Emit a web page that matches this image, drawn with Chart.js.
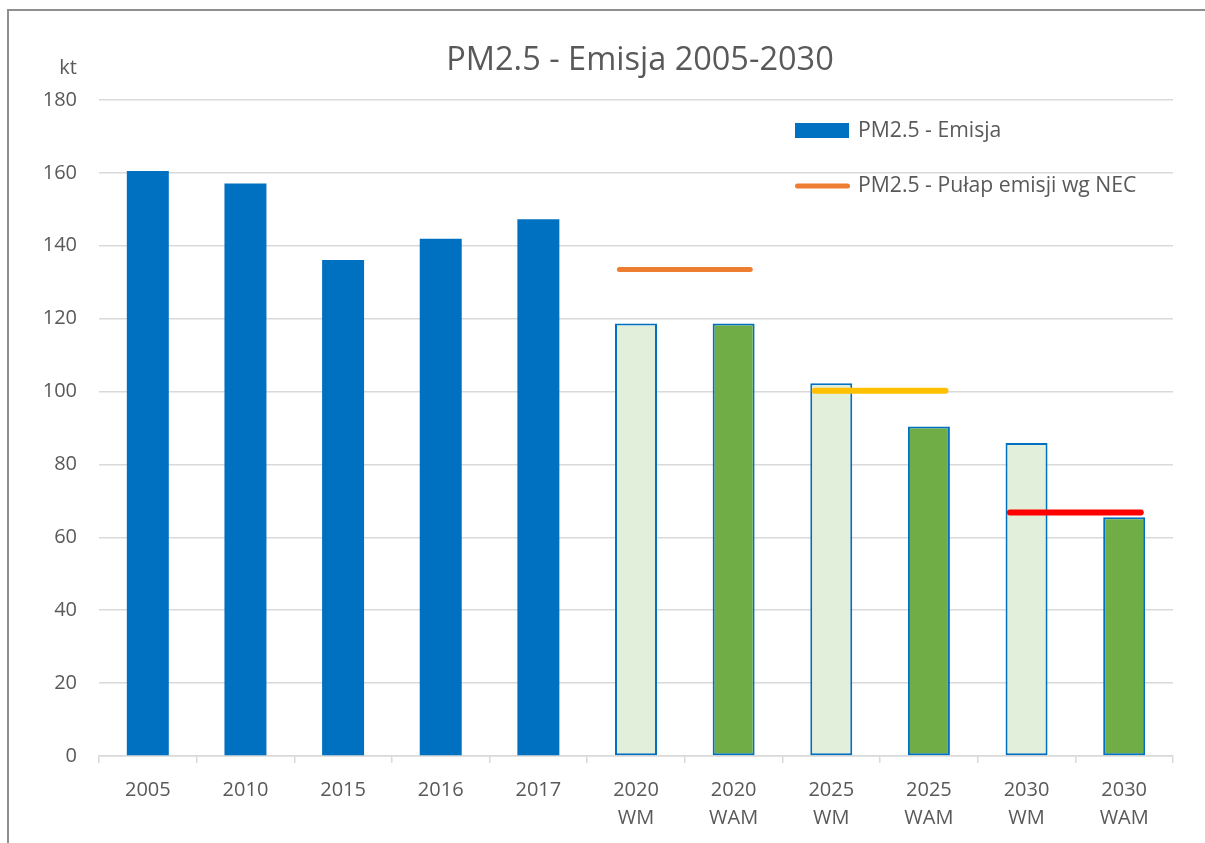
<!DOCTYPE html>
<html>
<head>
<meta charset="utf-8">
<script src="https://cdn.jsdelivr.net/npm/chart.js@4.4.1/dist/chart.umd.min.js"></script>
<style>
  html, body { margin: 0; padding: 0; background: #fff; overflow: hidden; }
  #wrap { position: relative; width: 1205px; height: 843px; overflow: hidden; }
  #frame { position: absolute; left: 7px; top: 9px; width: 3000px; height: 3000px; border: 2px solid #8e8e8e; box-sizing: border-box; }
  canvas { position: absolute; left: 0; top: 0; }
</style>
</head>
<body>
<div id="wrap">
  <div id="frame"></div>
  <canvas id="c" width="1205" height="843"></canvas>
</div>
<script>
// ---- data ----
const categories = [['2005'], ['2010'], ['2015'], ['2016'], ['2017'],
  ['2020', 'WM'], ['2020', 'WAM'], ['2025', 'WM'], ['2025', 'WAM'], ['2030', 'WM'], ['2030', 'WAM']];
const emissionValues = [160.5, 157.1, 136.1, 141.9, 147.3, 118.7, 118.7, 102.3, 90.4, 85.9, 65.5];
const barKind = ['hist', 'hist', 'hist', 'hist', 'hist', 'wm', 'wam', 'wm', 'wam', 'wm', 'wam'];
const necCeilings = [133.5, 100.2, 66.8];
const necPairs = [[5, 6], [7, 8], [9, 10]];   // category indices spanned by each ceiling
const necColors = ['#ED7D31', '#FFC000', '#FF0000'];
const yTicks = [0, 20, 40, 60, 80, 100, 120, 140, 160, 180];
const titleText = 'PM2.5 - Emisja 2005-2030';
const unitText = 'kt';
const seriesLabels = ['PM2.5 - Emisja', 'PM2.5 - Pułap emisji wg NEC'];

// ---- styles ----
const FONT = "'Open Sans', 'Liberation Sans', sans-serif";
const TEXT = '#595959';
const GRID = '#d9d9d9';
const fillFor = { hist: '#0070C0', wm: '#E2EFDA', wam: '#70AD47' };
const borderFor = { hist: '#0070C0', wm: '#0070C0', wam: '#0070C0' };
const bwFor = { hist: 0, wm: 2, wam: 2 };
const LINE_HALF = 0.17;

const necDatasets = necCeilings.map((v, i) => ({
  type: 'line',
  label: i === 0 ? seriesLabels[1] : seriesLabels[1] + ' ' + (i + 1),
  xAxisID: 'xl',
  yAxisID: 'y',
  data: [{ x: necPairs[i][0] - LINE_HALF, y: v }, { x: necPairs[i][1] + LINE_HALF, y: v }],
  borderColor: necColors[i],
  borderWidth: i === 0 ? 5 : 6,
  borderCapStyle: 'round',
  pointRadius: 0,
  fill: false,
  order: 1
}));

const overlay = {
  id: 'overlay',
  afterDraw(chart) {
    const ctx = chart.ctx;
    ctx.save();
    // title
    ctx.fillStyle = TEXT;
    ctx.font = '32.5px ' + FONT;
    ctx.textAlign = 'center';
    ctx.textBaseline = 'alphabetic';
    ctx.fillText(titleText, 640, 70);
    // unit
    ctx.font = '20px ' + FONT;
    ctx.textAlign = 'right';
    ctx.textBaseline = 'middle';
    ctx.fillText(unitText, 77, 68);
    // legend
    ctx.textAlign = 'left';
    ctx.font = '21.2px ' + FONT;
    ctx.fillStyle = '#0070C0';
    ctx.fillRect(795, 123, 54, 15);
    ctx.fillStyle = TEXT;
    ctx.fillText(chart.data.datasets[0].label, 858, 131);
    ctx.strokeStyle = necColors[0];
    ctx.lineWidth = 5;
    ctx.lineCap = 'round';
    ctx.beginPath();
    ctx.moveTo(797.5, 186);
    ctx.lineTo(847.5, 186);
    ctx.stroke();
    ctx.fillText(chart.data.datasets[1].label, 858, 186);
    ctx.restore();
  }
};

new Chart(document.getElementById('c'), {
  type: 'bar',
  data: {
    labels: categories,
    datasets: [{
      type: 'bar',
      label: seriesLabels[0],
      data: emissionValues,
      xAxisID: 'x',
      yAxisID: 'y',
      backgroundColor: barKind.map(k => fillFor[k]),
      borderColor: barKind.map(k => borderFor[k]),
      borderWidth: barKind.map(k => bwFor[k]),
      borderSkipped: false,
      grouped: false,
      barPercentage: 0.43,
      categoryPercentage: 1,
      order: 2
    }, ...necDatasets]
  },
  options: {
    responsive: false,
    animation: false,
    layout: { padding: { left: 0, right: 32, top: 100, bottom: 0 } },
    plugins: {
      legend: { display: false },
      tooltip: { enabled: false },
      title: { display: false }
    },
    scales: {
      x: {
        type: 'category',
        offset: true,
        grid: { offset: true, drawOnChartArea: false, drawTicks: true, tickLength: 7, color: GRID, lineWidth: 1.5 },
        border: { display: true, color: GRID, width: 1.5 },
        ticks: {
          color: TEXT, font: { family: FONT, size: 20, lineHeight: '28px' },
          padding: 13, maxRotation: 0, minRotation: 0, autoSkip: false
        },
        afterFit(s) { s.height = 87; }
      },
      xl: {
        type: 'linear',
        display: false,
        offset: false,
        grid: { offset: false },
        min: -0.5,
        max: categories.length - 0.5
      },
      y: {
        min: 0,
        max: 180,
        afterBuildTicks(s) { s.ticks = yTicks.map(v => ({ value: v })); },
        grid: { color: GRID, lineWidth: 1.5, drawTicks: false },
        border: { display: false },
        ticks: { color: TEXT, font: { family: FONT, size: 20 }, padding: 22 },
        afterFit(s) { s.width = 99; }
      }
    }
  },
  plugins: [overlay]
});
</script>
</body>
</html>
